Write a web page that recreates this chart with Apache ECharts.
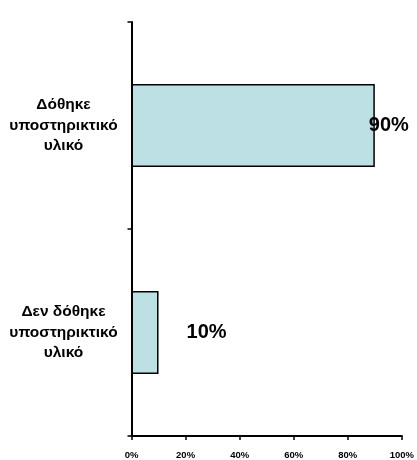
<!DOCTYPE html>
<html>
<head>
<meta charset="utf-8">
<script src="https://cdn.jsdelivr.net/npm/echarts@6/dist/echarts.min.js"></script>
<style>
  html, body { margin: 0; padding: 0; background: #fff; }
  #chart { width: 417px; height: 460px; }
</style>
</head>
<body>
<div id="chart"></div>
<script>
// categories from bottom to top (category axis on y goes upward)
const categories = ['Δεν δόθηκε\nυποστηρικτικό\nυλικό', 'Δόθηκε\nυποστηρικτικό\nυλικό']
const values = [10, 90]
const labelDistances = [28, -6]

const chart = echarts.init(document.getElementById('chart'))

const font = '"Liberation Sans", Arial, sans-serif'

const option = {
  animation: false,
  grid: {
    left: 131.5,
    right: 14,
    top: 22,
    bottom: 24,
  },
  xAxis: {
    type: 'value',
    min: 0,
    max: 100,
    interval: 20,
    axisLine: { show: true, lineStyle: { color: '#000', width: 2 } },
    axisTick: { show: true, length: 4, lineStyle: { color: '#000', width: 1.5 } },
    splitLine: { show: false },
    axisLabel: {
      formatter: '{value}%',
      color: '#000',
      fontFamily: font,
      fontWeight: 'bold',
      fontSize: 9.5,
      margin: 14,
    },
  },
  yAxis: {
    type: 'category',
    data: categories,
    axisLine: { show: true, lineStyle: { color: '#000', width: 2 } },
    axisTick: { show: true, length: 4, lineStyle: { color: '#000', width: 1.5 } },
    axisLabel: {
      color: '#000',
      fontFamily: font,
      fontWeight: 'bold',
      fontSize: 15.5,
      lineHeight: 20.5,
      align: 'center',
      margin: 68,
    },
  },
  series: [
    {
      type: 'bar',
      barWidth: '40%',
      data: values.map((v, i) => ({
        value: v,
        label: { distance: labelDistances[i] },
      })),
      itemStyle: {
        color: '#bce0e3',
        borderColor: '#000',
        borderWidth: 1.5,
      },
      label: {
        show: true,
        position: 'right',
        formatter: '{c}%',
        color: '#000',
        fontFamily: font,
        fontWeight: 'bold',
        fontSize: 20,
      },
    },
  ],
}

chart.setOption(option)
</script>
</body>
</html>
